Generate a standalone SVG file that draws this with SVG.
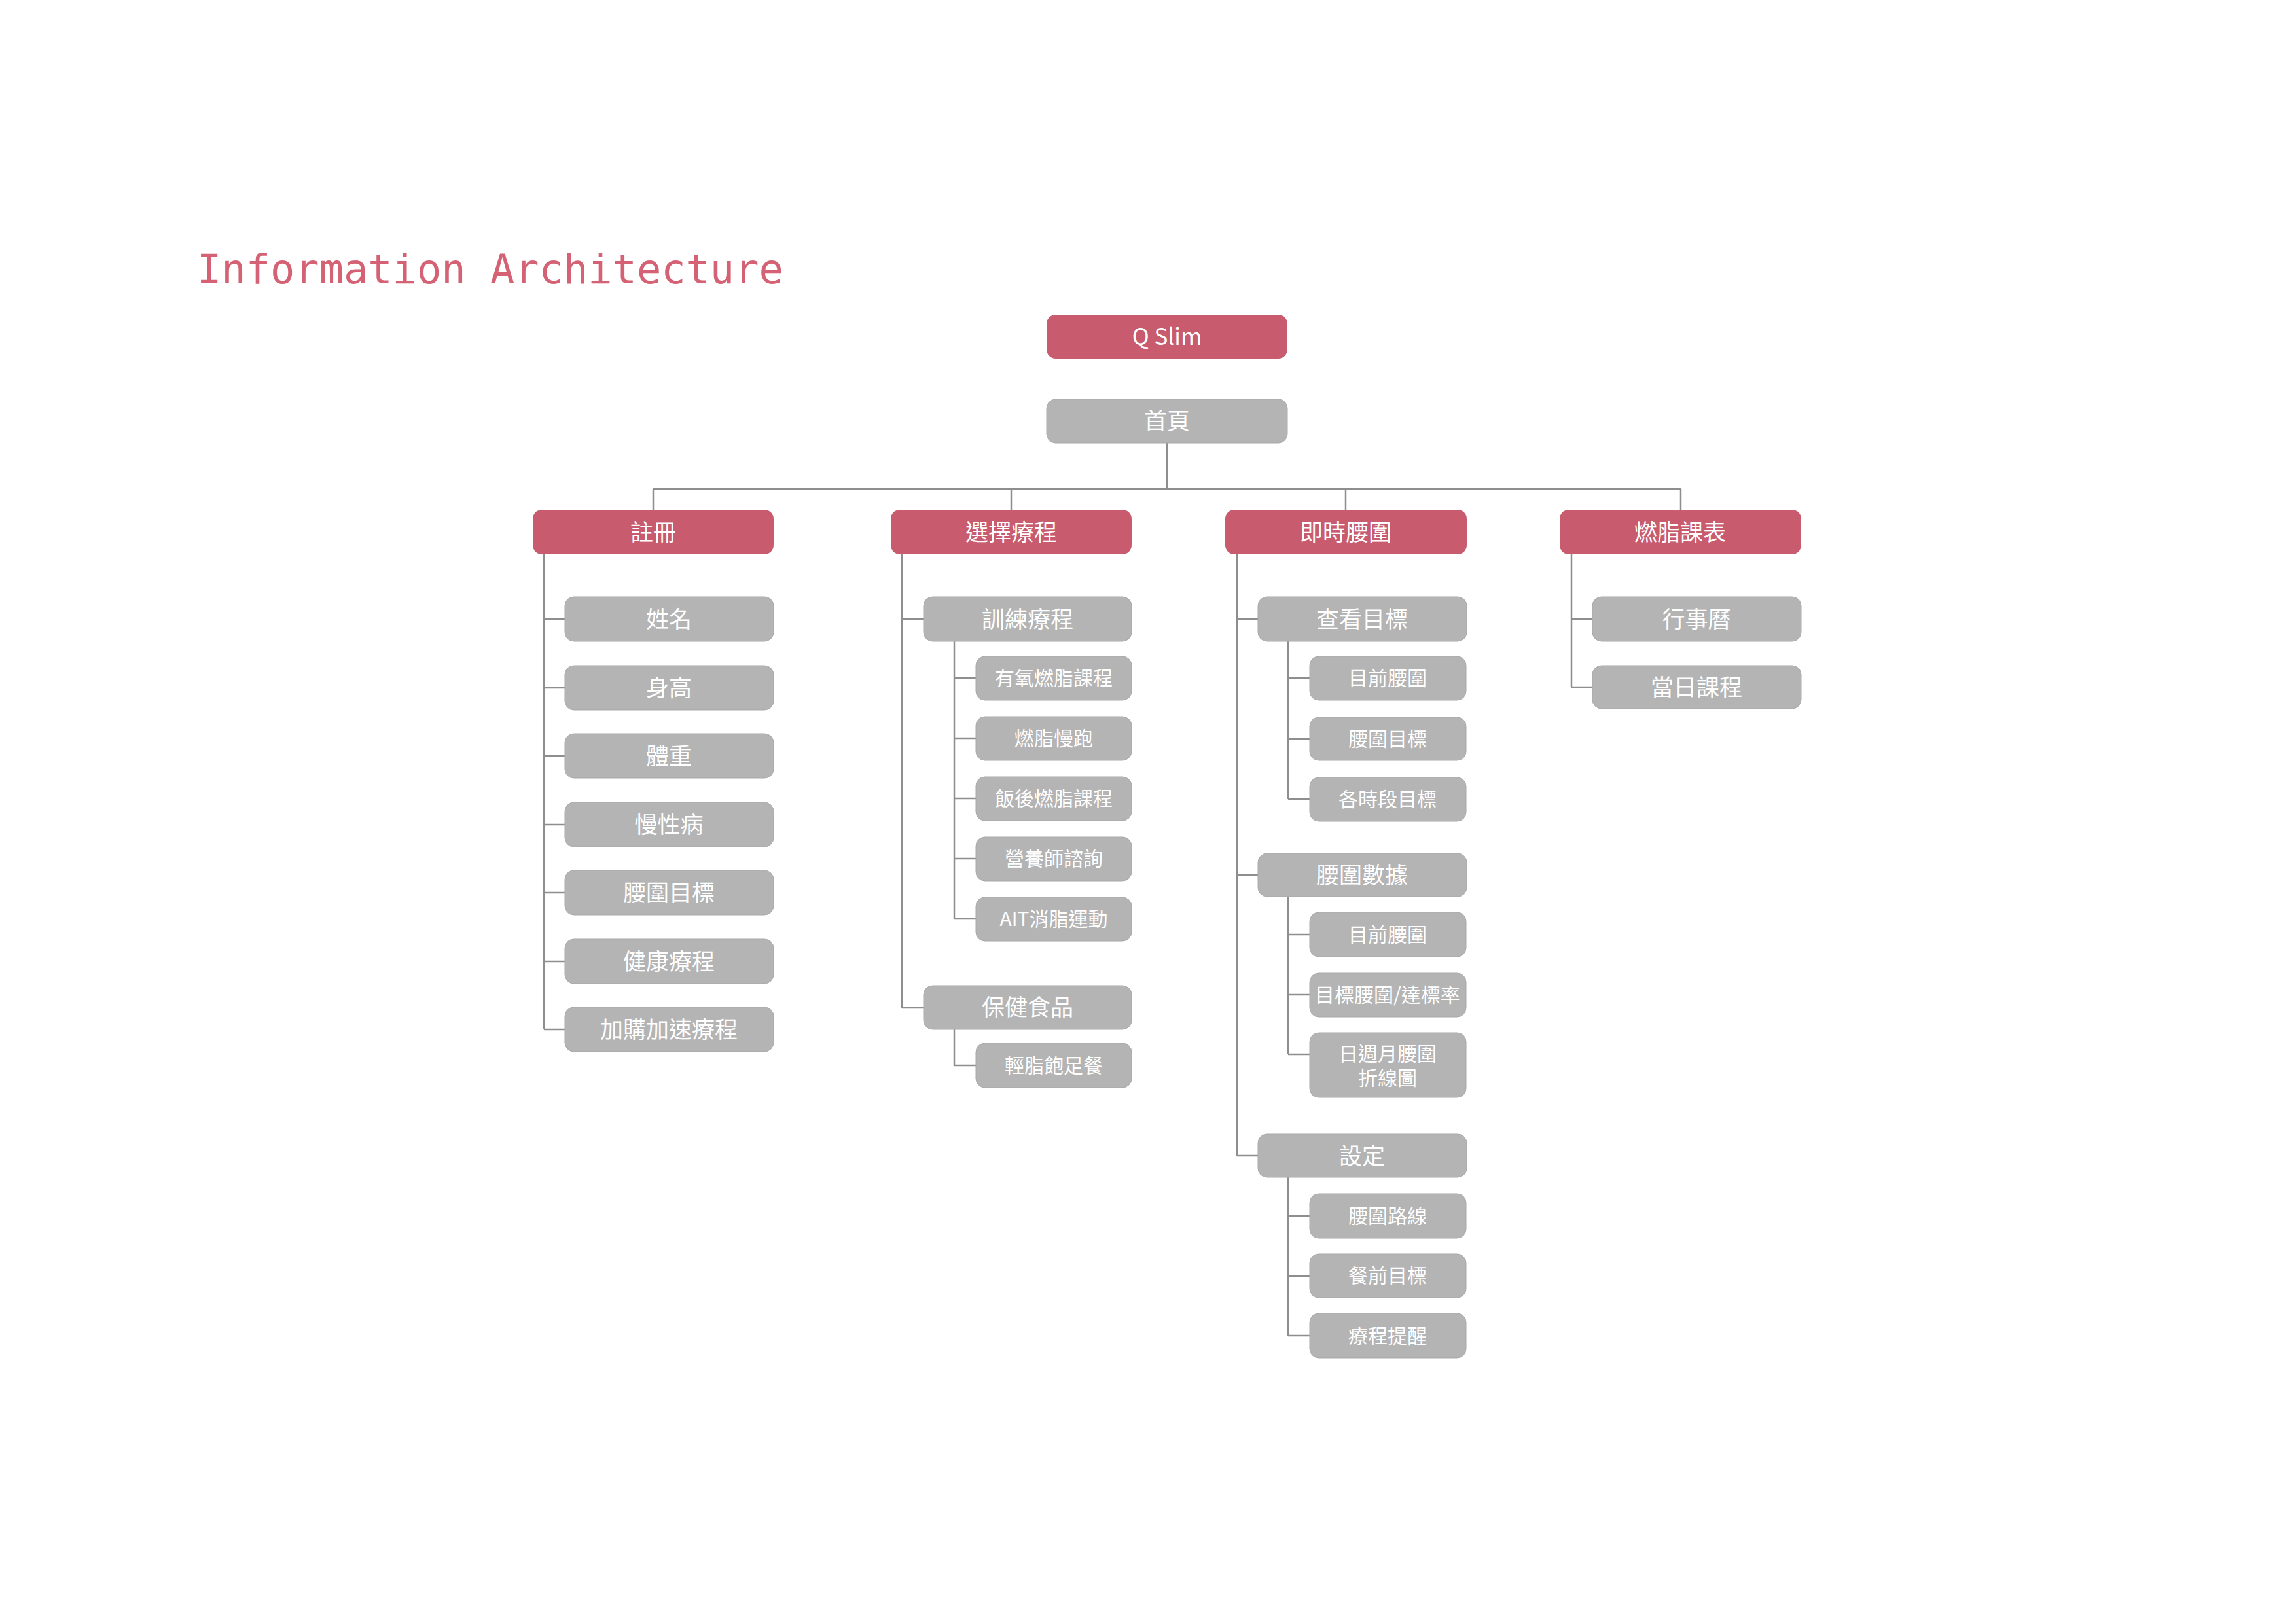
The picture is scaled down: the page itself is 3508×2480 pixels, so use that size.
<svg xmlns="http://www.w3.org/2000/svg" width="3508" height="2480" viewBox="0 0 3508 2480">
<style>
.red{fill:#C85C6E}
.gray{fill:#B4B4B4;stroke:#A9A9A9;stroke-width:1}
.t{font-family:"Noto Sans CJK TC","Noto Sans",sans-serif;fill:#FFFFFF;text-anchor:middle}
.l1{font-size:35px}
.l2{font-size:35px}
.l3{font-size:30px}
.ln{fill:none;stroke:#8E8E8E;stroke-width:2.5}
.title{font-family:"DejaVu Sans Mono",monospace;font-size:62px;fill:#D46274}
</style>
<rect width="3508" height="2480" fill="#FFFFFF"/>
<text class="title" x="301" y="433">Information Architecture</text>

<g id="connectors">
<path class="ln" d="M1783 677V747M998 747H2568M998 747V779M1545 747V779M2056 747V779M2568 747V779"/>
<path class="ln" d="M831 847V1573M831 946H863M831 1051H863M831 1155H863M831 1260H863M831 1364H863M831 1469H863M831 1573H863"/>
<path class="ln" d="M1378 847V1540M1378 946H1411M1378 1540H1411M1458 980V1404M1458 1036H1491M1458 1128H1491M1458 1220H1491M1458 1312H1491M1458 1404H1491M1458 1573V1628H1491"/>
<path class="ln" d="M1890 847V1766M1890 946H1922M1890 1337H1922M1890 1766H1922M1968 980V1221M1968 1036H2001M1968 1129H2001M1968 1221H2001M1968 1370V1611M1968 1428H2001M1968 1520H2001M1968 1611H2001M1968 1799V2041M1968 1858H2001M1968 1950H2001M1968 2041H2001"/>
<path class="ln" d="M2401 847V1050M2401 946H2433M2401 1050H2433"/>
</g>

<g id="n-qslim"><rect class="red" x="1599" y="481" width="368" height="67" rx="14"/><text class="t l1" x="1783" y="527">Q Slim</text></g>
<g id="n-home"><rect class="gray" x="1599" y="610" width="368" height="67" rx="14"/><text class="t l1" x="1783" y="656">首頁</text></g>

<g id="n-register"><rect class="red" x="814" y="779" width="368" height="68" rx="14"/><text class="t l1" x="998" y="826">註冊</text></g>
<g id="n-name"><rect class="gray" x="863" y="912" width="319" height="68" rx="14"/><text class="t l2" x="1022" y="959">姓名</text></g>
<g id="n-height"><rect class="gray" x="863" y="1017" width="319" height="68" rx="14"/><text class="t l2" x="1022" y="1064">身高</text></g>
<g id="n-weight"><rect class="gray" x="863" y="1121" width="319" height="68" rx="14"/><text class="t l2" x="1022" y="1168">體重</text></g>
<g id="n-chronic"><rect class="gray" x="863" y="1226" width="319" height="68" rx="14"/><text class="t l2" x="1022" y="1273">慢性病</text></g>
<g id="n-waistgoal"><rect class="gray" x="863" y="1330" width="319" height="68" rx="14"/><text class="t l2" x="1022" y="1377">腰圍目標</text></g>
<g id="n-healthcourse"><rect class="gray" x="863" y="1435" width="319" height="68" rx="14"/><text class="t l2" x="1022" y="1482">健康療程</text></g>
<g id="n-addon"><rect class="gray" x="863" y="1539" width="319" height="68" rx="14"/><text class="t l2" x="1022" y="1586">加購加速療程</text></g>

<g id="n-choose"><rect class="red" x="1361" y="779" width="368" height="68" rx="14"/><text class="t l1" x="1545" y="826">選擇療程</text></g>
<g id="n-training"><rect class="gray" x="1411" y="912" width="318" height="68" rx="14"/><text class="t l2" x="1570" y="959">訓練療程</text></g>
<g id="n-aerobic"><rect class="gray" x="1491" y="1003" width="238" height="67" rx="14"/><text class="t l3" x="1610" y="1047">有氧燃脂課程</text></g>
<g id="n-jog"><rect class="gray" x="1491" y="1095" width="238" height="67" rx="14"/><text class="t l3" x="1610" y="1139">燃脂慢跑</text></g>
<g id="n-aftermeal"><rect class="gray" x="1491" y="1187" width="238" height="67" rx="14"/><text class="t l3" x="1610" y="1231">飯後燃脂課程</text></g>
<g id="n-nutrition"><rect class="gray" x="1491" y="1279" width="238" height="67" rx="14"/><text class="t l3" x="1610" y="1323">營養師諮詢</text></g>
<g id="n-ait"><rect class="gray" x="1491" y="1371" width="238" height="67" rx="14"/><text class="t l3" x="1610" y="1415">AIT消脂運動</text></g>
<g id="n-food"><rect class="gray" x="1411" y="1506" width="318" height="67" rx="14"/><text class="t l2" x="1570" y="1552">保健食品</text></g>
<g id="n-meal"><rect class="gray" x="1491" y="1594" width="238" height="68" rx="14"/><text class="t l3" x="1610" y="1639">輕脂飽足餐</text></g>

<g id="n-realtime"><rect class="red" x="1872" y="779" width="369" height="68" rx="14"/><text class="t l1" x="2056" y="826">即時腰圍</text></g>
<g id="n-viewgoal"><rect class="gray" x="1922" y="912" width="319" height="68" rx="14"/><text class="t l2" x="2081" y="959">查看目標</text></g>
<g id="n-cur1"><rect class="gray" x="2001" y="1003" width="239" height="67" rx="14"/><text class="t l3" x="2120" y="1047">目前腰圍</text></g>
<g id="n-goal1"><rect class="gray" x="2001" y="1096" width="239" height="66" rx="14"/><text class="t l3" x="2120" y="1140">腰圍目標</text></g>
<g id="n-period"><rect class="gray" x="2001" y="1188" width="239" height="67" rx="14"/><text class="t l3" x="2120" y="1232">各時段目標</text></g>
<g id="n-data"><rect class="gray" x="1922" y="1304" width="319" height="66" rx="14"/><text class="t l2" x="2081" y="1350">腰圍數據</text></g>
<g id="n-cur2"><rect class="gray" x="2001" y="1394" width="239" height="68" rx="14"/><text class="t l3" x="2120" y="1439">目前腰圍</text></g>
<g id="n-rate"><rect class="gray" x="2001" y="1487" width="239" height="67" rx="14"/><text class="t l3" x="2120" y="1531">目標腰圍/達標率</text></g>
<g id="n-chart"><rect class="gray" x="2001" y="1578" width="239" height="99" rx="14"/><text class="t l3" x="2120" y="1621">日週月腰圍</text><text class="t l3" x="2120" y="1658">折線圖</text></g>
<g id="n-settings"><rect class="gray" x="1922" y="1733" width="319" height="66" rx="14"/><text class="t l2" x="2081" y="1779">設定</text></g>
<g id="n-route"><rect class="gray" x="2001" y="1824" width="239" height="68" rx="14"/><text class="t l3" x="2120" y="1869">腰圍路線</text></g>
<g id="n-premeal"><rect class="gray" x="2001" y="1916" width="239" height="67" rx="14"/><text class="t l3" x="2120" y="1960">餐前目標</text></g>
<g id="n-remind"><rect class="gray" x="2001" y="2007" width="239" height="68" rx="14"/><text class="t l3" x="2120" y="2052">療程提醒</text></g>

<g id="n-schedule"><rect class="red" x="2383" y="779" width="369" height="68" rx="14"/><text class="t l1" x="2567" y="826">燃脂課表</text></g>
<g id="n-calendar"><rect class="gray" x="2433" y="912" width="319" height="68" rx="14"/><text class="t l2" x="2592" y="959">行事曆</text></g>
<g id="n-today"><rect class="gray" x="2433" y="1017" width="319" height="66" rx="14"/><text class="t l2" x="2592" y="1063">當日課程</text></g>
</svg>
